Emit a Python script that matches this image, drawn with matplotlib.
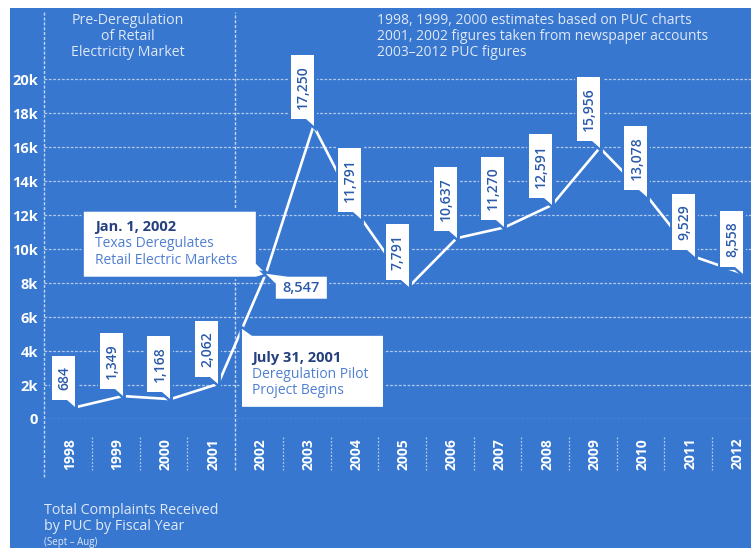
import matplotlib
matplotlib.use("Agg")
import matplotlib.pyplot as plt
import matplotlib.transforms as mtrans
from matplotlib.patches import Polygon, Rectangle
import numpy as np

# ---------------- data ----------------
years = ["1998", "1999", "2000", "2001", "2002", "2003", "2004", "2005",
         "2006", "2007", "2008", "2009", "2010", "2011", "2012"]
complaints = [684, 1349, 1168, 2062, 8547, 17250, 11791, 7791,
              10637, 11270, 12591, 15956, 13078, 9529, 8558]
value_labels = ["684", "1,349", "1,168", "2,062", "8,547", "17,250", "11,791",
                "7,791", "10,637", "11,270", "12,591", "15,956", "13,078",
                "9,529", "8,558"]
y_ticks = [0, 2000, 4000, 6000, 8000, 10000, 12000, 14000, 16000, 18000, 20000]
y_tick_labels = ["0", "2k", "4k", "6k", "8k", "10k", "12k", "14k", "16k", "18k", "20k"]
pilot_position = 3.5           # between FY2001 and FY2002 on the line
dereg_index = 4                # FY2002 point
note_lines = ["1998, 1999, 2000 estimates based on PUC charts",
              "2001, 2002 figures taken from newspaper accounts",
              "2003\u20132012 PUC figures"]
pre_lines = ["Pre-Deregulation", "of Retail", "Electricity Market"]
jan_lines = ["Jan. 1, 2002", "Texas Deregulates", "Retail Electric Markets"]
july_lines = ["July 31, 2001", "Deregulation Pilot", "Project Begins"]
foot_lines = ["Total Complaints Received", "by PUC by Fiscal Year", "(Sept \u2013 Aug)"]

# ---------------- style ----------------
BLUE = "#3877cf"
LIGHT = "#dfe8f7"
NUM = "#2a5aab"
DARK = "#25407e"
SUB = "#4f7fd2"
FONT = ["Open Sans", "DejaVu Sans"]
W, H = 751, 548

plt.rcParams["font.family"] = FONT

fig = plt.figure(figsize=(W / 100, H / 100), dpi=100)
fig.patch.set_facecolor("white")
fig.add_artist(Rectangle((10 / W, 0), 1, (H - 8) / H, transform=fig.transFigure,
                         facecolor=BLUE, edgecolor="none", zorder=0))

ax_left, ax_bottom, ax_top = 44, 419, 8
ax = fig.add_axes([ax_left / W, (H - ax_bottom) / H, 1 - ax_left / W, (ax_bottom - ax_top) / H])
ax.set_facecolor("none")
ax.set_xlim(-0.65, 14.17)
ax.set_ylim(0, 24180)
for s in ax.spines.values():
    s.set_visible(False)

x = np.arange(len(years))

ax.set_yticks(y_ticks, y_tick_labels)
ax.tick_params(axis="y", length=0, pad=4.3, labelcolor="white", labelsize=10.5)
for lab in ax.get_yticklabels():
    lab.set_fontweight("bold")
ax.grid(axis="y", color="white", linestyle=(0, (2.2, 1.3)), linewidth=0.9, alpha=0.6)

ax.set_xticks(x, years, rotation=90)
ax.tick_params(axis="x", length=0, pad=13.5, labelcolor="white", labelsize=10)
shift = mtrans.ScaledTranslation(-5 / 100, 0, fig.dpi_scale_trans)
for lab in ax.get_xticklabels():
    lab.set_fontweight("bold")
    lab.set_transform(lab.get_transform() + shift)


def ypx(p):
    return (ax_bottom - p) / (ax_bottom - ax_top)


xt = ax.get_xaxis_transform()
sep_off = 0.356
# left frame line and deregulation divider
ax.plot([-0.65, -0.65], [ypx(477), ypx(12)], transform=xt, clip_on=False,
        color="white", lw=1.0, ls=(0, (2.2, 1.3)), alpha=0.7)
ax.plot([3 + sep_off] * 2, [ypx(470), ypx(12)], transform=xt, clip_on=False,
        color="white", lw=1.0, ls=(0, (2.2, 1.3)), alpha=0.7)
for k in range(len(years) - 1):
    if k == 3:
        continue
    ax.plot([k + sep_off] * 2, [ypx(437), ypx(470)], transform=xt, clip_on=False,
            color="white", lw=0.9, ls=(0, (1.5, 1.3)), alpha=0.6)

# main line
ax.plot(x, complaints, color="white", lw=1.9, solid_capstyle="butt", zorder=3)

renderer = fig.canvas.get_renderer()


def anchored(xd, yd):
    return fig.dpi_scale_trans + mtrans.ScaledTranslation(xd, yd, ax.transData)


def draw_poly(verts_px, trans, z=4):
    v = np.array(verts_px, dtype=float) / 100.0
    halo = Polygon(v, closed=True, transform=trans, facecolor="white",
                   edgecolor=BLUE, lw=3.5, zorder=z, clip_on=False)
    body = Polygon(v, closed=True, transform=trans, facecolor="white",
                   edgecolor="none", zorder=z + 0.1, clip_on=False)
    ax.add_patch(halo)
    ax.add_patch(body)


# rotated value callouts
bw, ph, pw, pad = 23, 7, 8, 10
for i, (v, lab) in enumerate(zip(complaints, value_labels)):
    if i == dereg_index:
        continue
    tr = anchored(i, v)
    t = ax.text(0, 0, lab, rotation=90, ha="center", va="center", fontsize=10,
                fontweight="semibold", color=NUM, transform=tr, zorder=6, clip_on=False)
    length = t.get_window_extent(renderer).height
    L = length + 2 * pad
    draw_poly([(0, 0), (0, ph + L), (-bw, ph + L), (-bw, ph), (-pw, ph)], tr)
    t.set_position(((-bw / 2 + 0.5) / 100, (ph + L / 2) / 100))

# Jan. 1, 2002 callout (points to FY2002)
tr = anchored(dereg_index, complaints[dereg_index])
draw_poly([(0, 0), (-10, -3), (-182, -3), (-182, 62), (-10, 62), (-10, 10)], tr, z=4.2)
for j, (txt, yy) in enumerate(zip(jan_lines, [47, 30, 13])):
    ax.text(-171 / 100, yy / 100, txt, transform=tr, ha="left", va="center",
            fontsize=10.5 if j == 0 else 10, fontweight="bold" if j == 0 else "normal",
            color=DARK if j == 0 else SUB, zorder=6, clip_on=False)

# 8,547 horizontal callout
draw_poly([(0, 0), (22, -3), (61, -3), (61, -25), (10, -25), (10, -10)], tr, z=4.4)
ax.text(35.5 / 100, -14 / 100, value_labels[dereg_index], transform=tr, ha="center",
        va="center", fontsize=10.5, fontweight="semibold", color=NUM, zorder=6.5,
        clip_on=False)

# July 31, 2001 callout (points on the line between 2001 and 2002)
pilot_y = np.interp(pilot_position, x, complaints)
tr = anchored(pilot_position, pilot_y)
draw_poly([(0, 0), (10, -7), (141, -7), (141, -78), (0, -78)], tr, z=4.2)
for j, (txt, yy) in enumerate(zip(july_lines, [-29, -46, -62])):
    ax.text(10 / 100, yy / 100, txt, transform=tr, ha="left", va="center",
            fontsize=10.5 if j == 0 else 10, fontweight="bold" if j == 0 else "normal",
            color=DARK if j == 0 else SUB, zorder=6, clip_on=False)

# header texts
for txt, yy in zip(pre_lines, [20, 36, 52]):
    fig.text(128 / W, 1 - yy / H, txt, ha="center", va="center", fontsize=10.2,
             color=LIGHT, fontweight="medium")
for txt, yy in zip(note_lines, [20, 36, 52]):
    fig.text(377 / W, 1 - yy / H, txt, ha="left", va="center", fontsize=10,
             color=LIGHT, fontweight="medium")
# footer texts
for txt, yy, fs in zip(foot_lines, [510, 527, 542], [10.3, 10.3, 7]):
    fig.text(44 / W, 1 - yy / H, txt, ha="left", va="center", fontsize=fs,
             color=LIGHT, fontweight="medium")

fig.savefig("out.png", dpi=100, facecolor=fig.get_facecolor())
